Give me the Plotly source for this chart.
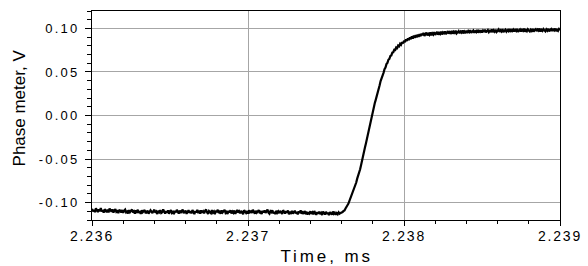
import numpy as np
import plotly.graph_objects as go

# Time base (ms), 481 evenly spaced samples from 2.236 to 2.239
t_start = 2.236
t_end = 2.239
n_samples = 481

# Phase meter signal (V)
baseline = [
    -0.1071, -0.1102, -0.1085, -0.1110, -0.1066, -0.1094, -0.1108, -0.1079, -0.1098, -0.1062, -0.1103, -0.1088, -0.1115, -0.1076, -0.1092, -0.1109,
    -0.1080, -0.1113, -0.1069, -0.1097, -0.1104, -0.1078, -0.1116, -0.1090, -0.1074, -0.1108, -0.1099, -0.1121, -0.1083, -0.1095, -0.1111, -0.1086,
    -0.1118, -0.1093, -0.1081, -0.1112, -0.1102, -0.1124, -0.1087, -0.1109, -0.1096, -0.1079, -0.1114, -0.1101, -0.1127, -0.1090, -0.1106, -0.1083,
    -0.1119, -0.1098, -0.1130, -0.1089, -0.1111, -0.1102, -0.1085, -0.1123, -0.1107, -0.1093, -0.1128, -0.1114, -0.1088, -0.1104, -0.1121, -0.1097,
    -0.1082, -0.1116, -0.1103, -0.1131, -0.1094, -0.1109, -0.1087, -0.1120, -0.1112, -0.1079, -0.1106, -0.1125, -0.1098, -0.1115, -0.1090, -0.1128,
    -0.1101, -0.1086, -0.1119, -0.1108, -0.1133, -0.1095, -0.1113, -0.1084, -0.1104, -0.1126, -0.1091, -0.1117, -0.1100, -0.1081, -0.1122, -0.1107,
    -0.1092, -0.1129, -0.1110, -0.1087, -0.1118, -0.1099, -0.1124, -0.1085, -0.1106, -0.1132, -0.1097, -0.1114, -0.1083, -0.1111, -0.1103, -0.1127,
    -0.1089, -0.1116, -0.1101, -0.1123, -0.1094, -0.1080, -0.1112, -0.1130, -0.1098, -0.1108, -0.1121, -0.1086, -0.1115, -0.1102, -0.1134, -0.1093,
    -0.1109, -0.1082, -0.1120, -0.1105, -0.1127, -0.1090, -0.1113, -0.1099, -0.1084, -0.1118, -0.1107, -0.1131, -0.1096, -0.1112, -0.1088, -0.1124,
    -0.1103, -0.1117, -0.1091, -0.1129, -0.1108, -0.1085, -0.1114, -0.1100, -0.1122, -0.1095, -0.1110, -0.1133, -0.1087, -0.1105, -0.1119, -0.1098,
    -0.1126, -0.1089, -0.1111, -0.1102, -0.1120, -0.1083, -0.1107, -0.1128, -0.1094, -0.1116, -0.1100, -0.1086, -0.1123, -0.1109, -0.1131, -0.1096,
    -0.1113, -0.1090, -0.1119, -0.1104, -0.1081, -0.1115, -0.1127, -0.1099, -0.1110, -0.1088, -0.1124, -0.1106, -0.1132, -0.1093, -0.1117, -0.1101,
    -0.1121, -0.1095, -0.1112, -0.1130, -0.1087, -0.1108, -0.1125, -0.1099, -0.1116, -0.1091, -0.1134, -0.1105, -0.1119, -0.1096, -0.1128, -0.1110,
    -0.1094, -0.1123, -0.1107, -0.1136, -0.1101, -0.1118, -0.1089, -0.1126, -0.1113, -0.1131, -0.1098, -0.1120, -0.1105, -0.1138, -0.1109, -0.1124,
    -0.1100, -0.1129, -0.1113, -0.1135, -0.1096, -0.1122, -0.1140, -0.1108, -0.1127, -0.1104, -0.1133, -0.1118, -0.1142, -0.1102, -0.1125, -0.1137,
    -0.1106, -0.1131, -0.1115, -0.1143, -0.1110, -0.1126, -0.1138, -0.1103, -0.1129, -0.1117, -0.1140, -0.1121, -0.1134, -0.1112, -0.1127, -0.1119,
]
rise = [
    -0.1115, -0.1108, -0.1096, -0.1090, -0.1068, -0.1055, -0.1030, -0.1012, -0.0982, -0.0961,
    -0.0925, -0.0902, -0.0862, -0.0838, -0.0795, -0.0770, -0.0725, -0.0696, -0.0648, -0.0618,
    -0.0568, -0.0525, -0.0470, -0.0420, -0.0365, -0.0318, -0.0262, -0.0212, -0.0158, -0.0110,
    -0.0053, -0.0008, 0.0049, 0.0090, 0.0141, 0.0180, 0.0232, 0.0268, 0.0317, 0.0348,
    0.0396, 0.0422, 0.0466, 0.0490, 0.0532, 0.0551, 0.0590, 0.0604, 0.0640, 0.0650,
    0.0684, 0.0690, 0.0723, 0.0726, 0.0754, 0.0752, 0.0781, 0.0774, 0.0803, 0.0795,
    0.0824, 0.0812, 0.0842, 0.0828, 0.0858, 0.0843, 0.0873, 0.0856, 0.0887, 0.0866,
    0.0898, 0.0876, 0.0908, 0.0884, 0.0916, 0.0891, 0.0923, 0.0897, 0.0930, 0.0903,
    0.0935,
]
plateau = [
    0.0911, 0.0940, 0.0922, 0.0948, 0.0915, 0.0933, 0.0951, 0.0919, 0.0938, 0.0926, 0.0954, 0.0921, 0.0944, 0.0930, 0.0957, 0.0925,
    0.0941, 0.0960, 0.0929, 0.0949, 0.0936, 0.0962, 0.0931, 0.0955, 0.0944, 0.0966, 0.0935, 0.0952, 0.0968, 0.0939, 0.0958, 0.0946,
    0.0971, 0.0940, 0.0962, 0.0950, 0.0974, 0.0943, 0.0959, 0.0969, 0.0945, 0.0964, 0.0952, 0.0977, 0.0942, 0.0966, 0.0956, 0.0973,
    0.0947, 0.0970, 0.0958, 0.0980, 0.0949, 0.0965, 0.0976, 0.0951, 0.0968, 0.0957, 0.0983, 0.0950, 0.0972, 0.0961, 0.0979, 0.0953,
    0.0975, 0.0960, 0.0986, 0.0954, 0.0970, 0.0981, 0.0958, 0.0973, 0.0965, 0.0989, 0.0956, 0.0977, 0.0962, 0.0984, 0.0959, 0.0972,
    0.0988, 0.0961, 0.0979, 0.0966, 0.0991, 0.0958, 0.0976, 0.0985, 0.0963, 0.0980, 0.0969, 0.0993, 0.0960, 0.0982, 0.0971, 0.0987,
    0.0964, 0.0983, 0.0970, 0.0995, 0.0961, 0.0979, 0.0988, 0.0966, 0.0984, 0.0973, 0.0997, 0.0962, 0.0981, 0.0968, 0.0990, 0.0976,
    0.0965, 0.0986, 0.0972, 0.0994, 0.0963, 0.0982, 0.0991, 0.0969, 0.0987, 0.0975, 0.0998, 0.0964, 0.0983, 0.0971, 0.0992, 0.0978,
    0.0967, 0.0989, 0.0974, 0.0996, 0.0966, 0.0984, 0.0993, 0.0970, 0.0988, 0.0977, 0.0999, 0.0968, 0.0985, 0.0972, 0.0994, 0.0980,
]

x_ticks = [2.236, 2.237, 2.238, 2.239]
x_ticklabels = ["2.236", "2.237", "2.238", "2.239"]
y_ticks = [-0.10, -0.05, 0.00, 0.05, 0.10]
y_ticklabels = ["-0.10", "-0.05", "0.00", "0.05", "0.10"]
x_title = "Time, ms"
y_title = "Phase meter, V"

time_ms = np.linspace(t_start, t_end, n_samples)
signal = baseline + rise + plateau

font_family = "Liberation Sans, Arial, sans-serif"
grid_col = "#a6a6a6"

fig = go.Figure()
fig.add_trace(go.Scatter(
    x=time_ms, y=signal, mode="lines",
    line=dict(color="black", width=2.2),
    showlegend=False, hoverinfo="skip",
))

fig.update_layout(
    width=588, height=266,
    margin=dict(l=92, r=22, t=10, b=46),
    paper_bgcolor="white", plot_bgcolor="white",
    font=dict(family=font_family, color="black", size=13),
)
fig.update_xaxes(
    range=[2.236, 2.239],
    tickvals=x_ticks, ticktext=x_ticklabels,
    showline=True, mirror=True, linecolor="black", linewidth=1,
    showgrid=True, gridcolor=grid_col, gridwidth=1,
    ticks="outside", ticklen=5, tickcolor="black",
    minor=dict(dtick=0.0002, tick0=2.236, ticks="outside", ticklen=3,
               tickcolor="black", showgrid=False),
    tickfont=dict(size=14),
    ticklabelstandoff=-2,
    zeroline=False,
)
fig.update_yaxes(
    range=[-0.12, 0.12],
    tickvals=y_ticks, ticktext=y_ticklabels,
    showline=True, mirror=True, linecolor="black", linewidth=1,
    showgrid=True, gridcolor=grid_col, gridwidth=1,
    ticks="outside", ticklen=6, tickcolor="black",
    minor=dict(dtick=0.01, tick0=0, ticks="outside", ticklen=4,
               tickcolor="black", showgrid=False),
    tickfont=dict(size=13),
    ticklabelstandoff=3,
    zeroline=False,
)
fig.add_annotation(
    text=y_title, textangle=-90, showarrow=False,
    xref="paper", yref="paper", x=(19 - 92) / 474, y=(220 - 107) / 210,
    xanchor="center", yanchor="middle",
    font=dict(size=17, family=font_family, color="black"),
)
fig.add_annotation(
    text=x_title, showarrow=False,
    xref="paper", yref="paper", x=(330 - 92) / 474, y=(220 - 257) / 210,
    xanchor="center", yanchor="middle",
    font=dict(size=17, family=font_family, color="black"),
)

post = """
document.body.style.margin = '0';
var gd = document.querySelector('.plotly-graph-div');
function sp(sel, v) { gd.querySelectorAll(sel).forEach(function (e) { e.style.letterSpacing = v; }); }
sp('.xtick text', '1.8px');
sp('.ytick text', '2.2px');
var ann = gd.querySelectorAll('.annotation-text');
if (ann.length > 1) { ann[1].style.letterSpacing = '2.9px'; }
"""

fig.write_html("out.html", post_script=post, config={"displayModeBar": False})
